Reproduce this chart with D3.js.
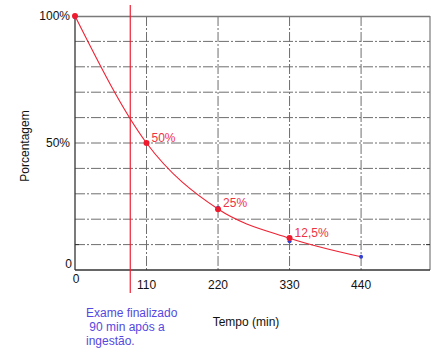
<!DOCTYPE html>
<html>
<head>
<meta charset="utf-8">
<script src="https://cdn.jsdelivr.net/npm/d3@7"></script>
<style>
  body { margin: 0; background: #fff; }
  svg { display: block; font-family: "Liberation Sans", Arial, sans-serif; }
</style>
</head>
<body>
<svg id="chart" width="438" height="354"></svg>
<script>
// values
const minutes = [0, 110, 220, 330, 440]
const curveValues = [100, 50, 24, 12.5, 5.2]
const redMinutes = [0, 110, 220, 330]
const redValues = [100, 50, 23.9, 12.6]
const blueMinutes = [0, 220, 330, 440]
const blueValues = [99.5, 24.5, 11.3, 5.2]
const pointLabels = ["50%", "25%", "12,5%"]
const labelMinutes = [110, 220, 330]
const labelValues = [50, 24.5, 12.6]
const xTicks = [0, 110, 220, 330, 440]
const yTicks = [0, 50, 100]
const yTickLabels = ["0", "50%", "100%"]
const gridValues = [10, 20, 30, 40, 50, 60, 70, 80, 90]
const examMinute = 85
const noteLines = ["Exame finalizado", " 90 min após a", "ingestão."]

const margin = { top: 16, right: 8, bottom: 84, left: 75 }
const svg = d3.select("#chart")
const width = 438 - margin.left - margin.right
const height = 354 - margin.top - margin.bottom

const x = d3.scaleLinear().domain([0, 546]).range([0, width])
const y = d3.scaleLinear().domain([0, 100]).range([height, 0])

const g = svg.append("g").attr("transform", `translate(${margin.left},${margin.top})`)

// grid (dash-dot)
g.selectAll(".hgrid")
    .data(gridValues)
    .enter()
    .append("line")
    .attr("x1", 0).attr("x2", width)
    .attr("y1", d => y(d)).attr("y2", d => y(d))
    .attr("stroke", "#6e6e6e")
    .attr("stroke-dasharray", "10,2,2,2")

g.selectAll(".vgrid")
    .data(xTicks.slice(1))
    .enter()
    .append("line")
    .attr("x1", d => x(d)).attr("x2", d => x(d))
    .attr("y1", 0).attr("y2", height)
    .attr("stroke", "#6e6e6e")
    .attr("stroke-dasharray", "10,2,2,2")

// frame
g.append("line").attr("x1", 0).attr("x2", width).attr("y1", 0.5).attr("y2", 0.5)
    .attr("stroke", "#7a7a7a").attr("stroke-width", 1.5)
g.append("line").attr("x1", width).attr("x2", width).attr("y1", 0).attr("y2", height)
    .attr("stroke", "#7a7a7a").attr("stroke-width", 1.2)
g.append("line").attr("x1", 0).attr("x2", 0).attr("y1", 0).attr("y2", height)
    .attr("stroke", "#333").attr("stroke-width", 1.3)
g.append("line").attr("x1", 0).attr("x2", width).attr("y1", height).attr("y2", height)
    .attr("stroke", "#333").attr("stroke-width", 1.3)

// small ticks at the 10% line
g.append("line").attr("x1", 0).attr("x2", 4).attr("y1", y(10)).attr("y2", y(10))
    .attr("stroke", "#333")
g.append("line").attr("x1", width - 4).attr("x2", width).attr("y1", y(10)).attr("y2", y(10))
    .attr("stroke", "#333")

// tick labels
g.selectAll(".ylab")
    .data(yTicks)
    .enter()
    .append("text")
    .attr("x", (d, i) => i == 0 ? -3 : -5)
    .attr("y", (d, i) => i == 0 ? y(d) - 2 : y(d) + 4)
    .attr("text-anchor", "end")
    .attr("font-size", 12)
    .attr("fill", "#111")
    .text((d, i) => yTickLabels[i])

g.selectAll(".xlab")
    .data(xTicks)
    .enter()
    .append("text")
    .attr("x", d => d == 0 ? x(d) + 1 : x(d))
    .attr("y", (d, i) => i == 0 ? height + 13 : height + 19)
    .attr("text-anchor", "middle")
    .attr("font-size", 12)
    .attr("fill", "#111")
    .text(d => d)

// axis titles
svg.append("text")
    .attr("transform", "translate(29,146) rotate(-90)")
    .attr("text-anchor", "middle")
    .attr("font-size", 12)
    .attr("fill", "#111")
    .text("Porcentagem")

svg.append("text")
    .attr("x", 246)
    .attr("y", 326)
    .attr("text-anchor", "middle")
    .attr("font-size", 12)
    .attr("fill", "#111")
    .text("Tempo (min)")

// exam marker line
g.append("line")
    .attr("x1", x(examMinute)).attr("x2", x(examMinute))
    .attr("y1", -11).attr("y2", height + 23)
    .attr("stroke", "#ee2233")
    .attr("stroke-width", 1.2)

svg.append("g")
    .selectAll("text")
    .data(noteLines)
    .enter()
    .append("text")
    .attr("x", 86)
    .attr("y", (d, i) => 317 + i * 14)
    .attr("font-size", 12)
    .attr("fill", "#5548e0")
    .attr("xml:space", "preserve")
    .style("white-space", "pre")
    .text(d => d)

// decay curve
const line = d3.line()
    .x(d => x(d[0]))
    .y(d => y(d[1]))
    .curve(d3.curveMonotoneX)

g.append("path")
    .datum(minutes.map((m, i) => [m, curveValues[i]]))
    .attr("d", line)
    .attr("fill", "none")
    .attr("stroke", "#ee2233")
    .attr("stroke-width", 1.1)

g.selectAll(".blue")
    .data(blueMinutes.map((m, i) => [m, blueValues[i]]))
    .enter()
    .append("circle")
    .attr("cx", d => x(d[0]))
    .attr("cy", d => y(d[1]))
    .attr("r", 2)
    .attr("fill", "#3040d0")

g.selectAll(".red")
    .data(redMinutes.map((m, i) => [m, redValues[i]]))
    .enter()
    .append("circle")
    .attr("cx", d => x(d[0]))
    .attr("cy", d => y(d[1]))
    .attr("r", 3)
    .attr("fill", "#ee1b2e")

g.selectAll(".plabel")
    .data(pointLabels)
    .enter()
    .append("text")
    .attr("x", (d, i) => x(labelMinutes[i]) + 5)
    .attr("y", (d, i) => y(labelValues[i]) - 1)
    .attr("font-size", 12)
    .attr("fill", "#ee3344")
    .text(d => d)
</script>
</body>
</html>
